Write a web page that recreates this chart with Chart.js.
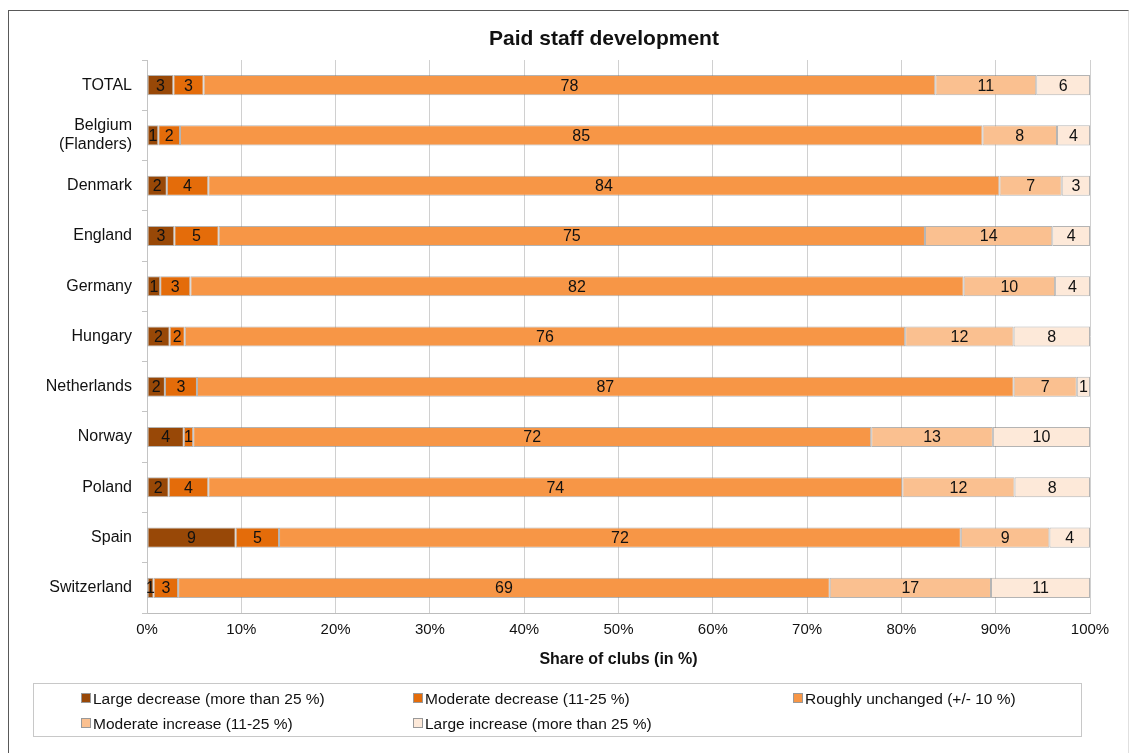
<!DOCTYPE html>
<html lang="en">
<head>
  <meta charset="UTF-8">
  <title>Paid staff development</title>
  <script src="https://cdn.jsdelivr.net/npm/chart.js"></script>
  <style>
    body {
      margin: 0;
      background: #fff;
      font-family: "Liberation Sans", Arial, sans-serif;
      color: #111;
    }
    .frame {
      position: absolute;
      left: 8px;
      top: 10px;
      width: 1119px;
      height: 760px;
      border-left: 1px solid #595959;
      border-top: 1px solid #595959;
      border-right: 1px solid #e0e0e0;
    }
    #chart {
      position: absolute;
      left: 0;
      top: 0;
    }
    .title {
      position: absolute;
      left: 404px;
      width: 400px;
      top: 25px;
      text-align: center;
      font-weight: bold;
      font-size: 21px;
      line-height: 26px;
    }
    .legend {
      position: absolute;
      left: 33px;
      top: 683px;
      width: 1047px;
      height: 52px;
      border: 1px solid #c8c8c8;
    }
    .item {
      position: absolute;
      font-size: 15.5px;
      line-height: 18px;
      white-space: nowrap;
    }
    .item i {
      display: inline-block;
      width: 8px;
      height: 8px;
      border: 1px solid #999;
      margin-right: 2px;
      vertical-align: 1px;
    }
  </style>
</head>
<body>
  <div class="frame"></div>
  <canvas id="chart" width="1130" height="753"></canvas>
  <div class="title">Paid staff development</div>
  <div class="legend" id="legend"></div>

  <script>
    const categories = ['TOTAL', ['Belgium', '(Flanders)'], 'Denmark', 'England', 'Germany', 'Hungary',
      'Netherlands', 'Norway', 'Poland', 'Spain', 'Switzerland'];

    const seriesNames = ['Large decrease (more than 25 %)', 'Moderate decrease (11-25 %)',
      'Roughly unchanged (+/- 10 %)', 'Moderate increase (11-25 %)', 'Large increase (more than 25 %)'];

    const largeDecrease    = [2.8, 1.2, 2.1, 2.9, 1.4, 2.4, 1.9, 3.9, 2.3, 9.4, 0.7];
    const moderateDecrease = [3.2, 2.3, 4.4, 4.7, 3.2, 1.6, 3.4, 1.0, 4.2, 4.6, 2.6];
    const roughlyUnchanged = [77.6, 85.1, 83.9, 74.9, 82.0, 76.4, 86.6, 71.9, 73.6, 72.3, 69.1];
    const moderateIncrease = [10.7, 7.9, 6.6, 13.5, 9.7, 11.5, 6.7, 12.9, 11.9, 9.4, 17.1];
    const largeIncrease    = [5.7, 3.5, 3.0, 4.0, 3.7, 8.1, 1.4, 10.3, 8.0, 4.3, 10.5];

    const xTicks = [0, 10, 20, 30, 40, 50, 60, 70, 80, 90, 100];

    const colors = ['#984807', '#E46C0A', '#F79646', '#FAC090', '#FDE9D9'];
    const series = [largeDecrease, moderateDecrease, roughlyUnchanged, moderateIncrease, largeIncrease];

    const fontFamily = '"Liberation Sans", Arial, sans-serif';

    // value labels in the middle of each segment
    const barLabels = {
      id: 'barLabels',
      afterDatasetsDraw(chart) {
        const ctx = chart.ctx;
        ctx.save();
        ctx.font = '16px ' + fontFamily;
        ctx.fillStyle = '#111';
        ctx.textAlign = 'center';
        ctx.textBaseline = 'middle';
        chart.data.datasets.forEach((ds, i) => {
          chart.getDatasetMeta(i).data.forEach((bar, j) => {
            const v = ds.data[j];
            if (!v) return;
            ctx.fillText(Math.round(v), (bar.x + bar.base) / 2, bar.y + 1);
          });
        });
        ctx.restore();
      }
    };

    new Chart(document.getElementById('chart').getContext('2d'), {
      type: 'bar',
      data: {
        labels: categories,
        datasets: series.map((d, i) => ({
          label: seriesNames[i],
          data: d,
          backgroundColor: colors[i],
          borderColor: 'rgba(130,130,130,0.6)',
          borderWidth: 1,
          borderSkipped: false,
          barPercentage: 0.4,
          categoryPercentage: 1
        }))
      },
      options: {
        indexAxis: 'y',
        responsive: false,
        animation: false,
        layout: { padding: { top: 60, right: 40, bottom: 80, left: 0 } },
        plugins: {
          legend: { display: false },
          tooltip: { enabled: false }
        },
        scales: {
          x: {
            stacked: true,
            min: 0,
            max: 100,
            afterFit: s => { s.height = 60; },
            afterBuildTicks: s => { s.ticks = xTicks.map(v => ({ value: v })); },
            ticks: {
              callback: v => v + '%',
              padding: 8,
              color: '#111',
              font: { family: fontFamily, size: 15 }
            },
            grid: { color: '#d0d0d0', drawTicks: false },
            border: { color: '#bdbdbd' },
            title: {
              display: true,
              text: 'Share of clubs (in %)',
              color: '#111',
              font: { family: fontFamily, size: 16, weight: 'bold' },
              padding: { top: 0, bottom: 4 }
            }
          },
          y: {
            stacked: true,
            afterFit: s => { s.width = 147; },
            ticks: {
              padding: 10,
              color: '#111',
              font: { family: fontFamily, size: 16 }
            },
            grid: { drawOnChartArea: false, tickLength: 5, color: '#c4c4c4', offset: true },
            border: { color: '#c4c4c4' }
          }
        }
      },
      plugins: [barLabels]
    });

    // legend laid out in three columns like the original
    const legendPos = [[47, 6], [379, 6], [759, 6], [47, 31], [379, 31]];
    const legend = document.getElementById('legend');
    seriesNames.forEach((name, i) => {
      const el = document.createElement('div');
      el.className = 'item';
      el.style.left = legendPos[i][0] + 'px';
      el.style.top = legendPos[i][1] + 'px';
      el.innerHTML = '<i style="background:' + colors[i] + '"></i>' + name;
      legend.appendChild(el);
    });
  </script>
</body>
</html>
